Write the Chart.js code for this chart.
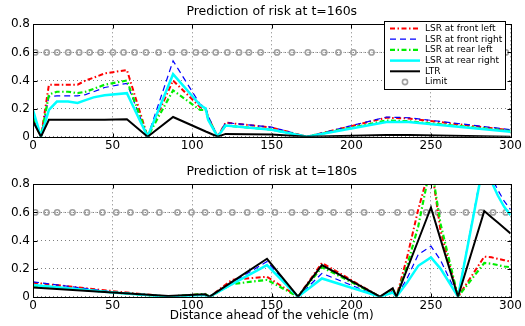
<!DOCTYPE html>
<html>
<head>
<meta charset="utf-8">
<script src="https://cdn.jsdelivr.net/npm/chart.js@4.4.1/dist/chart.umd.min.js"></script>
<style>
  body{margin:0;background:#fff}
  #wrap{position:relative;width:525px;height:326px}
  canvas{position:absolute;left:0}
</style>
</head>
<body>
<div id="wrap">
  <canvas id="risk160" width="525" height="160" style="top:0"></canvas>
  <canvas id="risk180" width="525" height="166" style="top:160px"></canvas>
</div>
<script>
// values: distance ahead (m) and risk level

// t = 160s
var dist160       = [0, 5, 10, 15, 22, 28, 33, 38, 45, 59, 72, 88, 105, 108.5, 110, 116, 121, 150, 172, 222, 236, 300];
var frontLeft160  = [0.15, 0, 0.37, 0.37, 0.37, 0.37, 0.40, 0.42, 0.45, 0.475, 0, 0.40, 0.21, 0.20, 0.14, 0, 0.10, 0.065, 0, 0.135, 0.13, 0.045];
var frontRight160 = [0.16, 0, 0.285, 0.29, 0.29, 0.29, 0.30, 0.32, 0.35, 0.38, 0, 0.54, 0.23, 0.21, 0.15, 0, 0.10, 0.068, 0, 0.14, 0.135, 0.05];
var rearLeft160   = [0.13, 0, 0.30, 0.32, 0.32, 0.31, 0.32, 0.34, 0.37, 0.40, 0, 0.33, 0.19, 0.19, 0.13, 0, 0.08, 0.05, 0, 0.115, 0.11, 0.04];
var rearRight160  = [0.19, 0, 0.19, 0.25, 0.25, 0.24, 0.26, 0.28, 0.295, 0.31, 0, 0.445, 0.225, 0.20, 0.12, 0, 0.08, 0.05, 0, 0.105, 0.105, 0.035];
var ltr160        = [0.11, 0, 0.12, 0.12, 0.12, 0.12, 0.12, 0.12, 0.12, 0.125, 0, 0.14, 0.055, 0.037, 0.03, 0, 0.02, 0.015, 0, 0.012, 0.012, 0];
var limitDist160  = [1.4, 8.6, 15.2, 22.1, 29, 35.6, 42.5, 50.2, 56.9, 63.8, 71, 78.9, 87.3, 95, 102.3, 108.1, 114.8, 122.1, 129.4, 135.6, 143, 153.3, 162.7, 172.7, 182.9, 191.9, 201.3, 212.7, 226, 236, 246, 256, 266, 276, 286, 297];

// t = 180s
var dist180       = [0, 50, 85, 108, 111, 125, 147, 166.5, 181.5, 218, 226, 228.3, 235, 242, 250, 256, 267, 283.5, 288, 292, 296, 300];
var frontLeft180  = [0.10, 0.04, 0, 0.02, 0, 0.12, 0.142, 0, 0.24, 0, 0.05, 0, 0.28, 0.62, 0.95, 0.47, 0, 0.285, 0.28, 0.27, 0.26, 0.25];
var frontRight180 = [0.105, 0.035, 0, 0.015, 0, 0.10, 0.25, 0, 0.166, 0, 0.04, 0, 0.13, 0.30, 0.36, 0.26, 0, 1.0, 0.85, 0.76, 0.68, 0.62];
var rearLeft180   = [0.08, 0.03, 0, 0.02, 0, 0.09, 0.12, 0, 0.21, 0, 0.045, 0, 0.22, 0.50, 0.95, 0.52, 0, 0.24, 0.235, 0.225, 0.215, 0.21];
var rearRight180  = [0.083, 0.03, 0, 0.012, 0, 0.09, 0.225, 0, 0.13, 0, 0.03, 0, 0.10, 0.22, 0.28, 0.20, 0, 0.98, 0.82, 0.72, 0.64, 0.58];
var ltr180        = [0.065, 0.03, 0.005, 0.017, 0, 0.105, 0.27, 0, 0.225, 0, 0.06, 0, 0.196, 0.40, 0.635, 0.41, 0, 0.61, 0.566, 0.528, 0.489, 0.45];
var limitDist180  = [1.4, 8.5, 15.2, 24.8, 33.9, 43.6, 52.3, 61.2, 70.4, 79.4, 90.8, 99.6, 108.1, 116.9, 125.2, 134.6, 143, 152, 162.7, 171, 180.4, 188.8, 198.5, 208, 219, 229, 237.7, 247, 254.4, 263.7, 272, 281.4, 289, 297];

var limitLevel = 0.6;
var seriesLabels = ['LSR at front left', 'LSR at front right', 'LSR at rear left', 'LSR at rear right', 'LTR', 'Limit'];
var xTicks = {min: 0, max: 300, step: 50};
var yTicks = {min: 0, max: 0.8, step: 0.2};

Chart.defaults.font.family = '"DejaVu Sans", sans-serif';
Chart.defaults.font.size = 12;
Chart.defaults.color = '#000';

function pts(xs, ys){
  return xs.map(function(x, i){ return {x: x, y: ys[i]}; });
}

function lineSet(label, data, color, width, dash, order){
  return {label: label, data: data, borderColor: color, backgroundColor: color,
          borderWidth: width, borderDash: dash, pointRadius: 0, fill: false,
          tension: 0, order: order};
}

function makeSets(dist, fl, fr, rl, rr, ltr, limitDist){
  var limit = lineSet(seriesLabels[5], limitDist.map(function(x){ return {x: x, y: limitLevel}; }),
                      '#a8a8a8', 1, [1.5, 2.5], 7);
  limit.pointRadius = 2.6;
  limit.pointBorderWidth = 1.6;
  limit.pointBorderColor = '#a0a0a0';
  limit.pointBackgroundColor = 'rgba(0,0,0,0)';
  return [
    lineSet(seriesLabels[0], pts(dist, fl), '#ff0000', 2, [5, 2.5, 1.5, 2.5], 6),
    lineSet(seriesLabels[1], pts(dist, fr), '#0000ff', 1.2, [6, 4], 5),
    lineSet(seriesLabels[2], pts(dist, rl), '#00ee00', 2.2, [5, 2.5, 1.5, 2.5], 4),
    lineSet(seriesLabels[3], pts(dist, rr), '#00ffff', 2.5, [], 3),
    lineSet(seriesLabels[4], pts(dist, ltr), '#000000', 2, [], 2),
    limit
  ];
}

// matlab style box with inward ticks
var axesBox = {
  id: 'axesBox',
  afterDatasetsDraw: function(chart){
    var a = chart.chartArea, ctx = chart.ctx;
    var l = Math.round(a.left) + 0.5, r = Math.round(a.right) + 0.5;
    var t = Math.round(a.top) + 0.5, b = Math.round(a.bottom) + 0.5;
    ctx.save();
    ctx.strokeStyle = '#000';
    ctx.lineWidth = 1;
    ctx.strokeRect(l, t, r - l, b - t);
    ctx.beginPath();
    chart.scales.x.ticks.forEach(function(tk){
      var px = Math.round(chart.scales.x.getPixelForValue(tk.value)) + 0.5;
      ctx.moveTo(px, b); ctx.lineTo(px, b - 4);
      ctx.moveTo(px, t); ctx.lineTo(px, t + 4);
    });
    chart.scales.y.ticks.forEach(function(tk){
      var py = Math.round(chart.scales.y.getPixelForValue(tk.value)) + 0.5;
      ctx.moveTo(l, py); ctx.lineTo(l + 4, py);
      ctx.moveTo(r, py); ctx.lineTo(r - 4, py);
    });
    ctx.stroke();
    ctx.restore();
  }
};

var insetLegend = {
  id: 'insetLegend',
  afterDraw: function(chart){
    var a = chart.chartArea, ctx = chart.ctx;
    var w = 121, h = 68;
    var left = Math.round(a.right - 6 - w), top = Math.round(a.top - 3.5);
    ctx.save();
    ctx.fillStyle = '#fff';
    ctx.fillRect(left, top, w, h);
    ctx.strokeStyle = '#000';
    ctx.lineWidth = 1;
    ctx.strokeRect(left + 0.5, top + 0.5, w, h);
    ctx.font = '9px "DejaVu Sans"';
    ctx.textBaseline = 'middle';
    chart.data.datasets.forEach(function(ds, i){
      var y = top + 7.5 + i * 10.7;
      if (ds.pointRadius > 0) {
        ctx.setLineDash([]);
        ctx.strokeStyle = ds.pointBorderColor;
        ctx.lineWidth = ds.pointBorderWidth;
        ctx.beginPath();
        ctx.arc(left + 21, y, ds.pointRadius, 0, Math.PI * 2);
        ctx.stroke();
      } else {
        ctx.setLineDash(ds.borderDash);
        ctx.strokeStyle = ds.borderColor;
        ctx.lineWidth = ds.borderWidth;
        ctx.beginPath();
        ctx.moveTo(left + 6, y);
        ctx.lineTo(left + 36, y);
        ctx.stroke();
      }
      ctx.fillStyle = '#000';
      ctx.fillText(ds.label, left + 41, y);
    });
    ctx.restore();
  }
};

function riskChart(canvasId, title, sets, xTitle, xHeight, withLegend){
  var gridLines = {color: 'rgba(0,0,0,0.5)', lineWidth: 1, drawTicks: false};
  return new Chart(document.getElementById(canvasId).getContext('2d'), {
    type: 'line',
    data: {datasets: sets},
    options: {
      responsive: false,
      animation: false,
      devicePixelRatio: 1,
      layout: {padding: {left: 0, right: 11, top: 0, bottom: 0}},
      plugins: {
        legend: {display: false},
        tooltip: {enabled: false}
      },
      scales: {
        x: {
          type: 'linear', min: xTicks.min, max: xTicks.max,
          ticks: {stepSize: xTicks.step, padding: 3, maxRotation: 0, font: {size: 12, lineHeight: 1}},
          grid: gridLines,
          border: {display: false, dash: [1, 3]},
          title: {display: !!xTitle, text: xTitle || '', color: '#000',
                  font: {size: 12, lineHeight: 1}, padding: {top: 0, bottom: 4}},
          afterFit: function(s){ s.height = xHeight; }
        },
        // empty top axis, only carries the plot title so it centres over the axes
        top: {
          type: 'linear', position: 'top', min: xTicks.min, max: xTicks.max,
          ticks: {display: false},
          grid: {display: false},
          border: {display: false},
          title: {display: true, text: title, color: '#000',
                  font: {size: 12.5, lineHeight: 1}, padding: {top: 5.7, bottom: 0}},
          afterFit: function(s){ s.height = 24.3; }
        },
        y: {
          min: yTicks.min, max: yTicks.max,
          ticks: {stepSize: yTicks.step, padding: 3, font: {size: 12}},
          grid: gridLines,
          border: {display: false, dash: [1, 3]},
          afterFit: function(s){ s.width = 33; }
        }
      }
    },
    plugins: withLegend ? [axesBox, insetLegend] : [axesBox]
  });
}

riskChart('risk160', 'Prediction of risk at t=160s',
  makeSets(dist160, frontLeft160, frontRight160, rearLeft160, rearRight160, ltr160, limitDist160),
  null, 23.3, true);

riskChart('risk180', 'Prediction of risk at t=180s',
  makeSets(dist180, frontLeft180, frontRight180, rearLeft180, rearRight180, ltr180, limitDist180),
  'Distance ahead of the vehicle (m)', 29.3, false);
</script>
</body>
</html>
